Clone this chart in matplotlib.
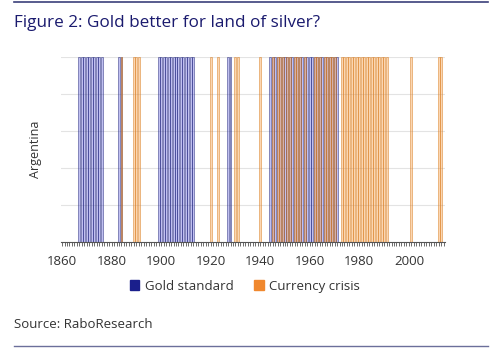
import matplotlib
matplotlib.use("Agg")
import matplotlib.pyplot as plt
from matplotlib.lines import Line2D
from matplotlib.patches import Patch

years_start = 1860
years_end = 2014
gold_standard_years = [1867, 1868, 1869, 1870, 1871, 1872, 1873, 1874, 1875, 1876,
                       1883, 1884,
                       1899, 1900, 1901, 1902, 1903, 1904, 1905, 1906, 1907, 1908,
                       1909, 1910, 1911, 1912, 1913,
                       1927, 1928,
                       1944, 1945, 1946, 1947, 1948, 1949, 1950, 1951, 1952, 1953,
                       1954, 1955, 1956, 1957, 1958, 1959, 1960, 1961, 1962, 1963,
                       1964, 1965, 1966, 1967, 1968, 1969, 1970, 1971]
currency_crisis_years = [1884, 1889, 1890, 1891, 1920, 1923, 1930, 1931, 1940,
                         1945, 1947, 1948, 1949, 1951, 1952, 1954, 1955, 1956, 1958,
                         1962, 1963, 1964, 1966, 1967, 1968, 1969, 1970,
                         1973, 1974, 1975, 1976, 1977, 1978, 1979, 1980, 1981, 1982,
                         1983, 1984, 1985, 1986, 1987, 1988, 1989, 1990, 1991,
                         2001, 2012, 2013]
tick_years = [1860, 1880, 1900, 1920, 1940, 1960, 1980, 2000]

plt.rcParams['font.family'] = ['Open Sans', 'DejaVu Sans']

fig = plt.figure(figsize=(5, 3.55), dpi=100)
ax = fig.add_axes([0.1216, 0.3183, 0.768, 0.5211])

navy = '#1a1f8c'
orange = '#f0882e'

ax.bar(gold_standard_years, [1] * len(gold_standard_years), width=0.8,
       color=(0.3, 0.3, 0.85, 0.35), edgecolor=(0.1, 0.12, 0.45, 0.65), linewidth=0.5)
ax.bar(currency_crisis_years, [1] * len(currency_crisis_years), width=0.8,
       color=(0.97, 0.6, 0.25, 0.4), edgecolor=(0.85, 0.5, 0.15, 0.7), linewidth=0.5)

ax.set_xlim(years_start - 0.5, years_end + 0.5)
ax.set_ylim(0, 1)
ax.set_yticks([0.2, 0.4, 0.6, 0.8, 1.0])
ax.set_yticklabels([])
ax.tick_params(axis='y', length=0)
ax.yaxis.grid(True, color='#e3e3e3', linewidth=0.8)
ax.set_axisbelow(True)
ax.set_xticks(tick_years)
ax.set_xticklabels([str(y) for y in tick_years], fontsize=9.5, color='#333333')
ax.set_xticks(list(range(years_start, years_end + 1)), minor=True)
ax.tick_params(axis='x', which='both', length=3, width=0.6, color='#555555', pad=6)
for s in ['top', 'right', 'left']:
    ax.spines[s].set_visible(False)
ax.spines['bottom'].set_color('#555555')
ax.spines['bottom'].set_linewidth(0.8)
ax.set_ylabel('Argentina', fontsize=9, color='#333333', labelpad=10)

handles = [Patch(color=navy), Patch(color=orange)]
fig.legend(handles, ['Gold standard', 'Currency crisis'], loc='center',
           bbox_to_anchor=(0.49, 0.194), ncol=2, frameon=False, fontsize=9.5,
           handlelength=0.7, handleheight=0.7, handletextpad=0.4, columnspacing=1.6,
           labelcolor='#333333')

fig.text(0.028, 0.935, 'Figure 2: Gold better for land of silver?', fontsize=12.3,
         color='#1a1a6e', va='center', ha='left')
fig.text(0.028, 0.085, 'Source: RaboResearch', fontsize=9.5, color='#333333',
         va='center', ha='left')
fig.add_artist(Line2D([0.028, 0.976], [0.994, 0.994], color='#3b3f7a', linewidth=1.2))
fig.add_artist(Line2D([0.028, 0.976], [0.025, 0.025], color='#6b6f9a', linewidth=1.0))

fig.savefig('out.png', dpi=100)
